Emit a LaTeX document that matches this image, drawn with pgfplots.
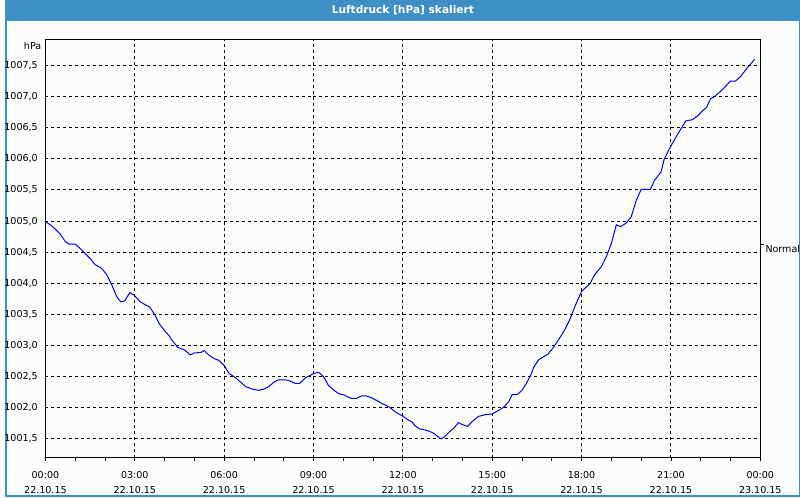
\documentclass[border=0pt]{standalone}
\usepackage{pgfplots}
\pgfplotsset{compat=1.18}
\usepackage{fontspec}
\setmainfont{DejaVu Sans}
\definecolor{titleblue}{RGB}{61,143,198}
\definecolor{bgc}{RGB}{251,253,251}
\begin{document}
\begin{tikzpicture}
\begin{scope}[x=0.75pt,y=0.75pt]
\path[use as bounding box] (0,0) rectangle (800,500);
\fill[bgc] (0,0) rectangle (800,500);
\fill[titleblue] (0,479) rectangle (800,500);
\draw[titleblue,line width=1.5pt] (0,0) rectangle (800,500);
\node[text=white,font=\bfseries\fontsize{8}{9}\selectfont] at (400,490) {Luftdruck [hPa] skaliert};
\node[anchor=east,font=\fontsize{7.2}{8}\selectfont,inner sep=0pt] at (36,454) {hPa};
\draw[black, line width=0.6pt] (760.5,254) -- (763.5,254);
\node[anchor=west, font=\fontsize{7.2}{8}\selectfont, inner sep=0pt] at (765,249.5) {Normal};
\end{scope}
\begin{axis}[
  at={(30pt,29.25pt)}, anchor=south west,
  scale only axis, width=540pt, height=315.75pt,
  xmin=0, xmax=24, ymin=1001.197, ymax=1007.915,
  axis line style={black, line width=0.75pt},
  xtick={0,3,6,9,12,15,18,21,24},
  xticklabels={{00:00\\22.10.15},{03:00\\22.10.15},{06:00\\22.10.15},{09:00\\22.10.15},{12:00\\22.10.15},{15:00\\22.10.15},{18:00\\22.10.15},{21:00\\22.10.15},{00:00\\23.10.15}},
  minor xtick={1,2,4,5,7,8,10,11,13,14,16,17,19,20,22,23},
  xtick pos=left,
  tick align=outside,
  major tick length=2.25pt, minor tick length=2.25pt,
  every tick/.style={black, line width=0.6pt},
  ytick={1001.5,1002,1002.5,1003,1003.5,1004,1004.5,1005,1005.5,1006,1006.5,1007,1007.5},
  ytick style={draw=none},
  grid=major,
  major grid style={black, line width=0.75pt, dash pattern=on 2.25pt off 2.25pt},
  xticklabel style={align=center, font=\fontsize{7.2}{11.25}\selectfont, yshift=-4.5pt},
  yticklabel style={font=\fontsize{7.2}{8}\selectfont, xshift=0pt},
  /pgf/number format/.cd, fixed, fixed zerofill, precision=1, use comma, 1000 sep={}, assume math mode=true,
]
\addplot[blue, line width=0.75pt] coordinates {
(0,1004.99) (0.167,1004.94) (0.333,1004.87) (0.5,1004.79) (0.667,1004.67) (0.8,1004.63) (1.0,1004.63)
(1.167,1004.56) (1.333,1004.48) (1.5,1004.40) (1.667,1004.30) (1.89,1004.24) (2.057,1004.14) (2.223,1003.98)
(2.39,1003.79) (2.533,1003.70) (2.667,1003.72) (2.833,1003.85) (2.977,1003.81) (3.167,1003.71) (3.333,1003.66)
(3.5,1003.62) (3.667,1003.50) (3.833,1003.34) (4.0,1003.24) (4.167,1003.15) (4.223,1003.10) (4.443,1002.97)
(4.667,1002.93) (4.867,1002.85) (5.0,1002.88) (5.223,1002.89) (5.333,1002.92) (5.5,1002.84) (5.667,1002.79)
(5.833,1002.76) (6.0,1002.68) (6.167,1002.55) (6.39,1002.48) (6.557,1002.41) (6.723,1002.34) (6.943,1002.30)
(7.167,1002.28) (7.333,1002.30) (7.5,1002.34) (7.667,1002.41) (7.833,1002.45) (8.0,1002.45) (8.167,1002.44)
(8.39,1002.39) (8.533,1002.39) (8.723,1002.48) (8.89,1002.52) (9.0,1002.55) (9.167,1002.57) (9.277,1002.53)
(9.39,1002.46) (9.5,1002.36) (9.667,1002.29) (9.833,1002.23) (10.0,1002.21) (10.167,1002.17) (10.277,1002.15)
(10.443,1002.15) (10.61,1002.19) (10.777,1002.19) (10.943,1002.16) (11.11,1002.12) (11.333,1002.06) (11.557,1002.01)
(11.723,1001.94) (11.943,1001.88) (12.167,1001.81) (12.31,1001.77) (12.39,1001.72) (12.557,1001.66) (12.777,1001.64)
(13.0,1001.60) (13.167,1001.54) (13.277,1001.50) (13.39,1001.53) (13.557,1001.61) (13.723,1001.68) (13.867,1001.76)
(14.0,1001.73) (14.167,1001.70) (14.333,1001.78) (14.533,1001.86) (14.777,1001.89) (15.0,1001.90) (15.223,1001.96)
(15.39,1002.01) (15.557,1002.10) (15.667,1002.21) (15.833,1002.21) (16.0,1002.28) (16.167,1002.41) (16.31,1002.54)
(16.39,1002.65) (16.557,1002.77) (16.723,1002.82) (16.867,1002.86) (17.057,1002.97) (17.277,1003.13) (17.443,1003.26)
(17.61,1003.42) (17.777,1003.63) (18.0,1003.87) (18.277,1003.99) (18.443,1004.14) (18.667,1004.27) (18.833,1004.43)
(19.0,1004.64) (19.167,1004.94) (19.31,1004.91) (19.5,1004.97) (19.667,1005.07) (19.833,1005.33) (20.0,1005.51)
(20.31,1005.51) (20.443,1005.65) (20.667,1005.79) (20.777,1006.00) (21.0,1006.21) (21.167,1006.35) (21.333,1006.48)
(21.5,1006.61) (21.723,1006.63) (21.89,1006.69) (22.057,1006.77) (22.2,1006.83) (22.333,1006.97) (22.467,1007.00)
(22.723,1007.11) (23.0,1007.25) (23.167,1007.25) (23.333,1007.32) (23.557,1007.46) (23.81,1007.60)
};
\end{axis}
\end{tikzpicture}
\end{document}
